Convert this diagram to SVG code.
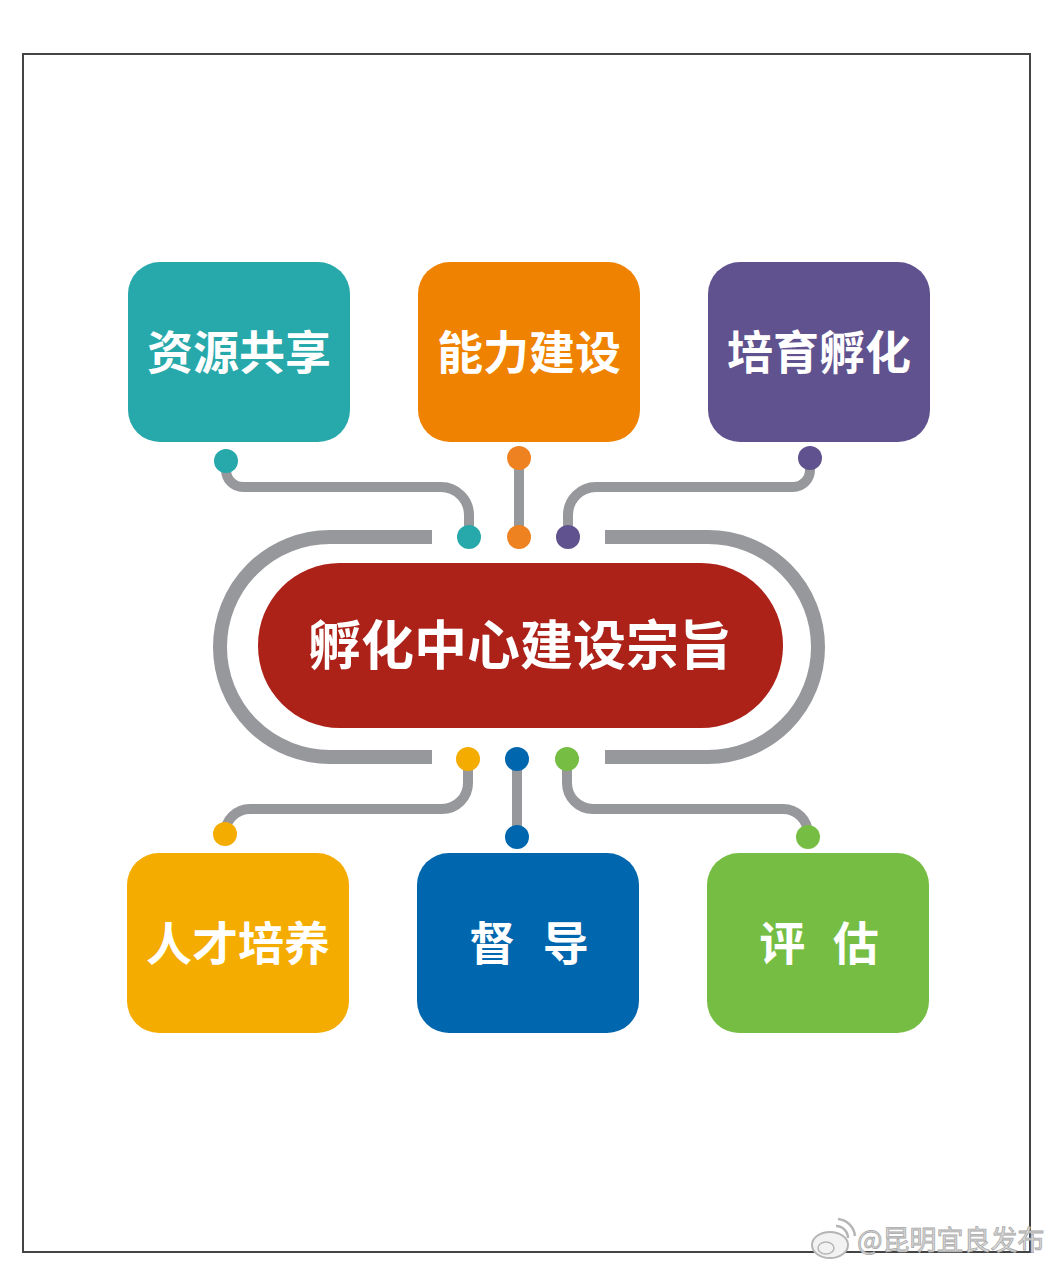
<svg xmlns="http://www.w3.org/2000/svg" width="1057" height="1267" viewBox="0 0 1057 1267">
<style>
.box text{font-family:"Noto Sans CJK SC","Noto Sans",sans-serif;font-weight:700;fill:#fff;text-anchor:middle;}
.lbl{font-size:46px;}
.conn{fill:none;stroke:#97989C;stroke-width:10;}
.ring{fill:none;stroke:#97989C;stroke-width:14;}
.wm{font-family:"Noto Sans CJK SC",sans-serif;font-size:27px;fill:#d9d9d9;stroke:#a9a9a9;stroke-width:0.8;}
</style>
<rect width="1057" height="1267" fill="#fff"/>
<rect x="23" y="54" width="1007" height="1198" fill="none" stroke="#444" stroke-width="2"/>

<g id="connectors">
  <path class="ring" d="M432,537 H330 A110,110 0 0 0 330,757 H432"/>
  <path class="ring" d="M605,537 H708 A110,110 0 0 1 708,757 H605"/>
  <path class="conn" d="M226,461 V470 A17,17 0 0 0 243,487 H441 A28,28 0 0 1 469,515 V537"/>
  <path class="conn" d="M519,458 V537"/>
  <path class="conn" d="M810,458 V470 A17,17 0 0 1 793,487 H596 A28,28 0 0 0 568,515 V537"/>
  <path class="conn" d="M468,759 V783 A26,26 0 0 1 442,809 H250 A25,25 0 0 0 225,834"/>
  <path class="conn" d="M517,759 V837"/>
  <path class="conn" d="M567,759 V783 A26,26 0 0 0 593,809 H783 A25,25 0 0 1 808,834"/>
  <circle cx="226" cy="461" r="12" fill="#27A8AA"/>
  <circle cx="469" cy="537" r="12" fill="#27A8AA"/>
  <circle cx="519" cy="458" r="12" fill="#EF8220"/>
  <circle cx="519" cy="537" r="12" fill="#EF8220"/>
  <circle cx="810" cy="458" r="12" fill="#5F528E"/>
  <circle cx="568" cy="537" r="12" fill="#5F528E"/>
  <circle cx="468" cy="759" r="12" fill="#F5AC00"/>
  <circle cx="225" cy="834" r="12" fill="#F5AC00"/>
  <circle cx="517" cy="759" r="12" fill="#0066AE"/>
  <circle cx="517" cy="837" r="12" fill="#0066AE"/>
  <circle cx="567" cy="759" r="12" fill="#76BE43"/>
  <circle cx="808" cy="837" r="12" fill="#76BE43"/>
</g>

<g id="center" class="box">
  <rect x="258" y="563" width="525" height="165" rx="82" fill="#AC2118"/>
  <text x="520" y="665" font-size="53">孵化中心建设宗旨</text>
</g>

<g id="n1" class="box">
  <rect x="128" y="262" width="222" height="180" rx="32" fill="#27A8AA"/>
  <text class="lbl" x="239" y="369">资源共享</text>
</g>
<g id="n2" class="box">
  <rect x="418" y="262" width="222" height="180" rx="32" fill="#EF8200"/>
  <text class="lbl" x="529" y="369">能力建设</text>
</g>
<g id="n3" class="box">
  <rect x="708" y="262" width="222" height="180" rx="32" fill="#5F528E"/>
  <text class="lbl" x="819" y="369">培育孵化</text>
</g>
<g id="n4" class="box">
  <rect x="127" y="853" width="222" height="180" rx="32" fill="#F5AC00"/>
  <text class="lbl" x="238" y="960">人才培养</text>
</g>
<g id="n5" class="box">
  <rect x="417" y="853" width="222" height="180" rx="32" fill="#0066AE"/>
  <text class="lbl" x="529" y="960" word-spacing="17">督 导</text>
</g>
<g id="n6" class="box">
  <rect x="707" y="853" width="222" height="180" rx="32" fill="#76BE43"/>
  <text class="lbl" x="819" y="960" word-spacing="17">评 估</text>
</g>

<g id="watermark">
  <ellipse cx="830" cy="1245" rx="18" ry="13" fill="#f2f2f2" stroke="#b5b5b5" stroke-width="2"/>
  <ellipse cx="826" cy="1248" rx="8" ry="6" fill="none" stroke="#b5b5b5" stroke-width="1.5"/>
  <path d="M836,1226 A12,12 0 0 1 848,1238" fill="none" stroke="#b5b5b5" stroke-width="2.5"/>
  <path d="M838,1219 A19,19 0 0 1 855,1236" fill="none" stroke="#b5b5b5" stroke-width="2.5"/>
  <text class="wm" x="857" y="1250">@昆明宜良发布</text>
</g>
</svg>
